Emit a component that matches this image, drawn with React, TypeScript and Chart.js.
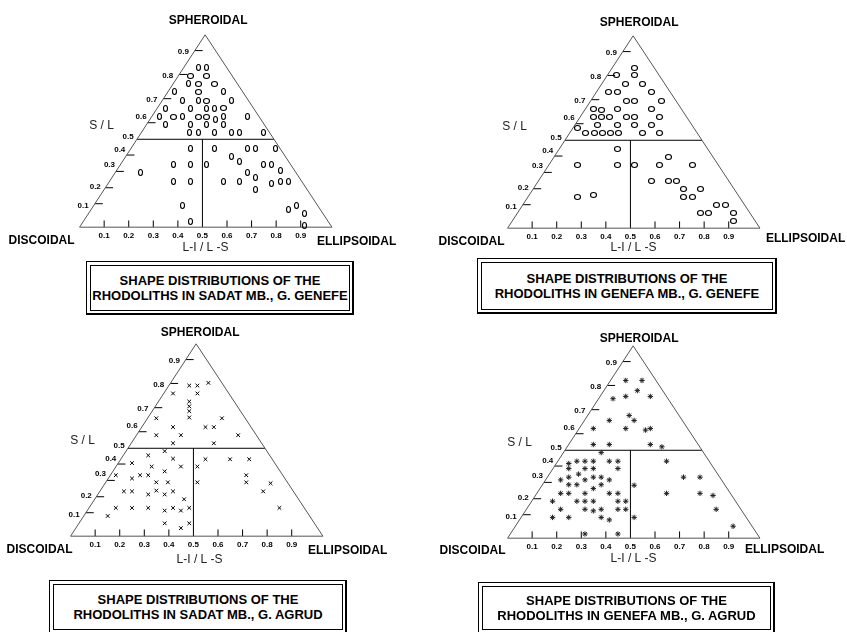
import React, { useEffect, useRef } from 'react';
import { Chart, registerables } from 'chart.js';

Chart.register(...registerables);

// ---------- axis ticks ----------
const baseTickLabels = ['0.1', '0.2', '0.3', '0.4', '0.5', '0.6', '0.7', '0.8', '0.9'];
const baseTickValues = [0.1, 0.2, 0.3, 0.4, 0.5, 0.6, 0.7, 0.8, 0.9];
const baseMarkValues = [0.1, 0.2, 0.3, 0.4, 0.6, 0.7, 0.8, 0.9];
const slTickLabels = ['0.1', '0.2', '0.3', '0.4', '0.5', '0.6', '0.7', '0.8', '0.9'];
const slLabelHeights = [0.112, 0.209, 0.322, 0.404, 0.47, 0.574, 0.66, 0.786, 0.91];
const slMarkHeights = [0.122, 0.205, 0.29, 0.375, 0.543, 0.668, 0.794, 0.918];
const divideHeight = 0.457;
const divideValue = 0.5;
const triLeft = 0;
const triApex = 0.511;
const triRight = 1.027;

// ---------- data (x = L-I/L-S position along base, y = S/L height) ----------
const sadatGenefeZeroX = [0.482, 0.518, 0.445, 0.385, 0.584, 0.418, 0.482, 0.617, 0.349, 0.451, 0.518, 0.551, 0.326, 0.418, 0.555, 0.584, 0.683, 0.349, 0.451, 0.518, 0.584, 0.449, 0.482, 0.548, 0.617, 0.65, 0.749, 0.451, 0.548, 0.683, 0.716, 0.796, 0.617, 0.65, 0.382, 0.451, 0.518, 0.749, 0.782, 0.816, 0.249, 0.683, 0.716, 0.382, 0.451, 0.584, 0.65, 0.816, 0.849, 0.782, 0.716, 0.418, 0.882, 0.849, 0.915, 0.451, 0.915];
const sadatGenefeZeroY = [0.828, 0.828, 0.745, 0.703, 0.703, 0.658, 0.658, 0.658, 0.617, 0.617, 0.617, 0.617, 0.573, 0.573, 0.562, 0.573, 0.573, 0.533, 0.533, 0.533, 0.533, 0.49, 0.49, 0.49, 0.49, 0.49, 0.49, 0.407, 0.407, 0.407, 0.407, 0.407, 0.367, 0.342, 0.325, 0.325, 0.325, 0.325, 0.325, 0.295, 0.283, 0.283, 0.258, 0.24, 0.24, 0.24, 0.24, 0.24, 0.24, 0.225, 0.198, 0.112, 0.112, 0.092, 0.07, 0.028, 0.01];
const sadatGenefeRoundX = [0.451, 0.518, 0.482, 0.548, 0.482, 0.518, 0.584, 0.382, 0.482, 0.518];
const sadatGenefeRoundY = [0.787, 0.787, 0.745, 0.745, 0.703, 0.658, 0.617, 0.573, 0.573, 0.573];

const genefaGenefeX = [0.515, 0.445, 0.515, 0.481, 0.549, 0.412, 0.449, 0.584, 0.482, 0.515, 0.628, 0.349, 0.383, 0.449, 0.584, 0.349, 0.383, 0.416, 0.482, 0.515, 0.617, 0.365, 0.449, 0.515, 0.584, 0.283, 0.319, 0.352, 0.385, 0.418, 0.451, 0.549, 0.617, 0.449, 0.653, 0.283, 0.449, 0.518, 0.617, 0.752, 0.584, 0.653, 0.686, 0.716, 0.785, 0.716, 0.752, 0.283, 0.349, 0.851, 0.885, 0.785, 0.818, 0.918, 0.918];
const genefaGenefeY = [0.833, 0.795, 0.795, 0.75, 0.75, 0.708, 0.708, 0.708, 0.663, 0.663, 0.663, 0.622, 0.612, 0.622, 0.622, 0.578, 0.578, 0.578, 0.578, 0.578, 0.578, 0.538, 0.538, 0.538, 0.538, 0.52, 0.495, 0.495, 0.495, 0.495, 0.495, 0.495, 0.495, 0.412, 0.37, 0.33, 0.33, 0.33, 0.33, 0.33, 0.245, 0.245, 0.245, 0.203, 0.203, 0.162, 0.162, 0.162, 0.175, 0.12, 0.12, 0.078, 0.078, 0.078, 0.038];

const sadatAgrudX = [0.561, 0.483, 0.516, 0.417, 0.516, 0.483, 0.483, 0.483, 0.483, 0.349, 0.616, 0.417, 0.549, 0.583, 0.349, 0.449, 0.682, 0.417, 0.583, 0.383, 0.316, 0.417, 0.549, 0.649, 0.727, 0.25, 0.449, 0.33, 0.516, 0.383, 0.184, 0.283, 0.316, 0.715, 0.25, 0.715, 0.349, 0.396, 0.516, 0.814, 0.217, 0.25, 0.316, 0.349, 0.383, 0.417, 0.784, 0.462, 0.184, 0.25, 0.316, 0.417, 0.483, 0.85, 0.383, 0.449, 0.151, 0.383, 0.483, 0.449];
const sadatAgrudY = [0.797, 0.783, 0.783, 0.742, 0.742, 0.7, 0.675, 0.65, 0.617, 0.613, 0.613, 0.567, 0.567, 0.567, 0.525, 0.525, 0.525, 0.483, 0.483, 0.442, 0.42, 0.403, 0.4, 0.4, 0.4, 0.38, 0.362, 0.362, 0.362, 0.337, 0.317, 0.317, 0.317, 0.317, 0.3, 0.28, 0.28, 0.28, 0.28, 0.275, 0.233, 0.233, 0.217, 0.237, 0.217, 0.233, 0.233, 0.192, 0.147, 0.147, 0.147, 0.147, 0.147, 0.147, 0.133, 0.133, 0.105, 0.067, 0.067, 0.042];

const genefaAgrudX = [0.481, 0.547, 0.528, 0.429, 0.481, 0.581, 0.495, 0.515, 0.414, 0.349, 0.481, 0.561, 0.581, 0.349, 0.414, 0.581, 0.628, 0.381, 0.282, 0.315, 0.349, 0.414, 0.449, 0.647, 0.249, 0.249, 0.315, 0.349, 0.449, 0.289, 0.249, 0.349, 0.381, 0.716, 0.783, 0.216, 0.315, 0.414, 0.249, 0.282, 0.381, 0.349, 0.515, 0.216, 0.249, 0.315, 0.414, 0.449, 0.647, 0.783, 0.836, 0.183, 0.282, 0.315, 0.349, 0.449, 0.481, 0.216, 0.315, 0.349, 0.381, 0.449, 0.481, 0.849, 0.183, 0.249, 0.381, 0.414, 0.515, 0.918, 0.315, 0.449];
const genefaAgrudY = [0.82, 0.82, 0.767, 0.725, 0.737, 0.737, 0.638, 0.612, 0.612, 0.57, 0.57, 0.562, 0.57, 0.487, 0.487, 0.487, 0.475, 0.445, 0.4, 0.4, 0.4, 0.4, 0.4, 0.4, 0.388, 0.362, 0.362, 0.362, 0.362, 0.333, 0.317, 0.317, 0.317, 0.317, 0.317, 0.303, 0.303, 0.303, 0.278, 0.278, 0.278, 0.258, 0.275, 0.233, 0.233, 0.233, 0.233, 0.233, 0.233, 0.233, 0.222, 0.192, 0.192, 0.192, 0.192, 0.192, 0.192, 0.15, 0.15, 0.142, 0.15, 0.15, 0.15, 0.15, 0.108, 0.108, 0.108, 0.095, 0.108, 0.062, 0.022, 0.022];

const titleLine1 = 'SHAPE DISTRIBUTIONS OF THE';
const titles = [
  'RHODOLITHS IN SADAT MB., G. GENEFE',
  'RHODOLITHS IN GENEFA MB., G. GENEFE',
  'RHODOLITHS IN SADAT MB., G. AGRUD',
  'RHODOLITHS IN GENEFA MB., G. AGRUD',
];

// ---------- layout ----------
const CW = 420;
const CH = 262;
const OX = 76;      // base-left corner inside canvas
const OY = 231;
const PXU = 251.7;  // px per unit along base
const PYU = 200;    // px per unit of height
const FONT = "'Liberation Sans', Arial, Helvetica, sans-serif";

type Series = { x: number[]; y: number[]; marker: string };
type Spec = {
  left: number; top: number;
  series: Series[];
  sph: [number, number]; disc: [number, number]; ell: [number, number];
  sl: [number, number]; lil: [number, number];
  box: { l: number; t: number; r: number; b: number };
  title: string;
};

const panels: Spec[] = [
  {
    left: 0, top: 0,
    series: [
      { x: sadatGenefeZeroX, y: sadatGenefeZeroY, marker: 'zero' },
      { x: sadatGenefeRoundX, y: sadatGenefeRoundY, marker: 'round' },
    ],
    sph: [3, -14], disc: [-38, 14], ell: [277, 15], sl: [22, -101], lil: [126, 21],
    box: { l: 86, t: 261, r: 354, b: 315 }, title: titles[0],
  },
  {
    left: 428, top: 1,
    series: [{ x: genefaGenefeX, y: genefaGenefeY, marker: 'circle' }],
    sph: [6, -13.5], disc: [-36, 14], ell: [298, 11], sl: [7, -101], lil: [126, 20],
    box: { l: 477, t: 258, r: 777, b: 314 }, title: titles[1],
  },
  {
    left: -9, top: 309,
    series: [{ x: sadatAgrudX, y: sadatAgrudY, marker: 'x' }],
    sph: [4, -11], disc: [-31, 14], ell: [277, 15], sl: [12, -95], lil: [129, 24],
    box: { l: 49, t: 580, r: 347, b: 634 }, title: titles[2],
  },
  {
    left: 428, top: 311,
    series: [{ x: genefaAgrudX, y: genefaAgrudY, marker: 'star' }],
    sph: [6, -7], disc: [-35, 13], ell: [277, 12], sl: [12, -95], lil: [126, 21],
    box: { l: 478, t: 582, r: 775, b: 634 }, title: titles[3],
  },
];

function ellipseGlyph(rx: number, ry: number): HTMLCanvasElement {
  const c = document.createElement('canvas');
  const w = Math.round(rx * 2) + 3;
  const h = Math.round(ry * 2) + 3;
  c.width = w; c.height = h;
  const g = c.getContext('2d')!;
  g.strokeStyle = '#000';
  g.lineWidth = 1.1;
  g.beginPath();
  g.ellipse(w / 2, h / 2, rx, ry, 0, 0, Math.PI * 2);
  g.stroke();
  return c;
}

function Panel({ spec }: { spec: Spec }) {
  const ref = useRef<HTMLCanvasElement | null>(null);
  useEffect(() => {
    const canvas = ref.current;
    if (!canvas) return;
    const leftEdge = (h: number) => triLeft + (triApex - triLeft) * h;
    const rightEdge = (h: number) => triRight - (triRight - triApex) * h;

    const triangle = [
      { x: triLeft, y: 0 }, { x: triRight, y: 0 }, { x: triApex, y: 1 }, { x: triLeft, y: 0 },
    ];
    const hLine = [{ x: leftEdge(divideHeight), y: divideHeight }, { x: rightEdge(divideHeight), y: divideHeight }];
    const vLine = [{ x: divideValue, y: 0 }, { x: divideValue, y: divideHeight }];
    const baseMarks: any[] = [];
    baseMarkValues.forEach((val) => {
      baseMarks.push({ x: val, y: 0 }, { x: val, y: 7 / PYU }, { x: val, y: null });
    });
    const leftMarks: any[] = [];
    slMarkHeights.forEach((h) => {
      leftMarks.push({ x: leftEdge(h), y: h }, { x: leftEdge(h) + 8 / PXU, y: h }, { x: leftEdge(h), y: null });
    });

    const lineDs = (data: any[], color: string) => ({
      type: 'line' as const,
      data,
      borderColor: color,
      borderWidth: 1,
      pointRadius: 0,
      fill: false,
      spanGaps: false,
      tension: 0,
      order: 2,
    });

    const zeroGlyph = ellipseGlyph(2, 3);
    const roundGlyph = ellipseGlyph(3, 2.5);
    const circleGlyph = ellipseGlyph(3, 2.5);

    const pointDs = spec.series.map((s) => {
      let pointStyle: any = 'circle';
      let radius = 3;
      if (s.marker === 'zero') pointStyle = zeroGlyph;
      else if (s.marker === 'round') pointStyle = roundGlyph;
      else if (s.marker === 'circle') pointStyle = circleGlyph;
      else if (s.marker === 'x') { pointStyle = 'crossRot'; radius = 2.6; }
      else if (s.marker === 'star') { pointStyle = 'star'; radius = 2.7; }
      return {
        type: 'scatter' as const,
        data: s.x.map((x, i) => ({ x, y: s.y[i] })),
        pointStyle,
        pointRadius: radius,
        pointBorderColor: s.marker === 'star' ? '#222' : '#000',
        pointBackgroundColor: 'rgba(0,0,0,0)',
        pointBorderWidth: 1,
        borderColor: '#000',
        showLine: false,
        order: 1,
      };
    });

    const crispPlugin = {
      id: 'crisp',
      beforeDatasetsDraw(chart: any) {
        chart.ctx.imageSmoothingEnabled = false;
      },
    };

    const textPlugin = {
      id: 'ternaryText',
      afterDatasetsDraw(chart: any) {
        const { ctx } = chart;
        const xs = chart.scales.x;
        const ys = chart.scales.y;
        const X = (u: number) => xs.getPixelForValue(u);
        const Y = (v: number) => ys.getPixelForValue(v);
        const bx = X(triLeft);
        const by = Y(0);
        ctx.save();
        ctx.fillStyle = '#000';
        ctx.textBaseline = 'middle';
        // base tick labels
        ctx.font = `bold 8px ${FONT}`;
        ctx.textAlign = 'center';
        baseTickValues.forEach((val, i) => ctx.fillText(baseTickLabels[i], X(val), by + 9));
        // S/L tick labels
        ctx.textAlign = 'right';
        slTickLabels.forEach((lab, i) => {
          const h = slLabelHeights[i];
          ctx.fillText(lab, X(leftEdge(h)) - 5, Y(h));
        });
        // corner names
        ctx.font = `bold 12px ${FONT}`;
        ctx.textAlign = 'center';
        ctx.fillText('SPHEROIDAL', X(triApex) + spec.sph[0], Y(1) + spec.sph[1]);
        ctx.fillText('DISCOIDAL', bx + spec.disc[0], by + spec.disc[1]);
        ctx.fillText('ELLIPSOIDAL', bx + spec.ell[0], by + spec.ell[1]);
        // axis titles
        ctx.font = `12px ${FONT}`;
        ctx.fillStyle = '#222';
        ctx.fillText('S / L', bx + spec.sl[0], by + spec.sl[1]);
        ctx.fillText('L-I / L -S', bx + spec.lil[0], by + spec.lil[1]);
        ctx.restore();
      },
    };

    const chart = new Chart(canvas, {
      type: 'scatter',
      data: {
        datasets: [
          lineDs(triangle, '#555'),
          lineDs(hLine, '#000'),
          lineDs(vLine, '#000'),
          lineDs(baseMarks, '#000'),
          lineDs(leftMarks, '#000'),
          ...pointDs,
        ] as any,
      },
      options: {
        animation: false,
        responsive: false,
        maintainAspectRatio: false,
        devicePixelRatio: 1,
        events: [],
        layout: { padding: 0 },
        plugins: { legend: { display: false }, tooltip: { enabled: false } },
        scales: {
          x: { type: 'linear', display: false, min: -OX / PXU - 0.4 / PXU, max: (CW - OX - 0.4) / PXU },
          y: { type: 'linear', display: false, min: -(CH - OY) / PYU, max: OY / PYU },
        },
        clip: false as any,
      },
      plugins: [crispPlugin, textPlugin],
    });
    return () => chart.destroy();
  }, [spec]);

  const b = spec.box;
  return (
    <>
      <canvas
        ref={ref}
        width={CW}
        height={CH}
        style={{ position: 'absolute', left: spec.left, top: spec.top, width: CW, height: CH }}
      />
      <div
        style={{
          position: 'absolute', left: b.l, top: b.t, width: b.r - b.l, height: b.b - b.t,
          boxSizing: 'border-box', borderTop: '1px solid #000', borderLeft: '1px solid #000',
          borderRight: '2px solid #000', borderBottom: '2px solid #000', background: '#fff',
        }}
      >
        <div
          style={{
            position: 'absolute', left: 3, top: 3, right: 2, bottom: 2,
            border: '1px solid #000', display: 'flex', flexDirection: 'column',
            alignItems: 'center', justifyContent: 'center',
            font: `bold 13px ${FONT}`, lineHeight: '15px', color: '#000', whiteSpace: 'nowrap',
          }}
        >
          <div>{titleLine1}</div>
          <div>{spec.title}</div>
        </div>
      </div>
    </>
  );
}

export default function App() {
  return (
    <div style={{ position: 'absolute', left: 0, top: 0, width: 847, height: 632, overflow: 'hidden', background: '#fff' }}>
      {panels.map((p, i) => (
        <Panel key={i} spec={p} />
      ))}
    </div>
  );
}
